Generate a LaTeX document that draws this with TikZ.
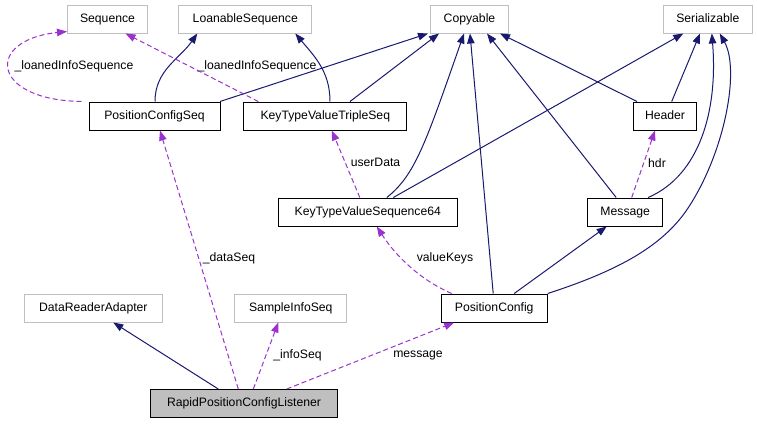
\documentclass[tikz,border=0pt]{standalone}
\usepackage{fontspec}
\setmainfont{Liberation Sans}
\usepackage{xcolor}
\usepackage{tikz}
\usetikzlibrary{positioning,arrows.meta}

\definecolor{navyline}{HTML}{191970}
\definecolor{useline}{HTML}{9A32CD}
\definecolor{boxgray}{HTML}{BFBFBF}

\tikzset{
  cls/.style={draw=black, line width=1pt, rectangle, minimum height=28pt, inner sep=0pt,
    text height=9pt, text depth=2.5pt, font=\fontsize{12.2}{14}\selectfont},
  extcls/.style={cls, draw=boxgray},
  rootcls/.style={cls, fill=boxgray},
  inherit/.style={draw=navyline, line width=1pt, -{Triangle[length=10pt,width=7.5pt]}},
  uses/.style={draw=useline, line width=1pt, dash pattern=on 5pt off 3pt,
    -{Triangle[length=10pt,width=7.5pt]}},
  lbl/.style={inner sep=0pt, font=\fontsize{12.2}{14}\selectfont},
}

\begin{document}
\begin{tikzpicture}[x=1pt,y=1pt]
    \useasboundingbox (0,0) rectangle (757,-424);

    % Top row
    \node [extcls, minimum width=80pt] (seq) at (107.5,-19) {Sequence};
    \node [extcls, minimum width=132.7pt] (loanseq) at (245.3,-19) {LoanableSequence};
    \node [extcls, minimum width=77.7pt] (copyable) at (469.5,-19) {Copyable};
    \node [extcls, minimum width=89pt] (serial) at (707.8,-19) {Serializable};

    % Second row
    \node [cls, minimum width=131pt] (pcseq) at (154.5,-116) {PositionConfigSeq};
    \node [cls, minimum width=162.7pt] (triple) at (325.3,-116) {KeyTypeValueTripleSeq};
    \node [cls, minimum width=63.3pt] (header) at (665,-116) {Header};

    % Third row
    \node [cls, minimum width=179pt] (kvseq) at (367.8,-212) {KeyTypeValueSequence64};
    \node [cls, minimum width=75pt] (msg) at (625.2,-212) {Message};

    % Fourth row
    \node [extcls, minimum width=138pt] (adapter) at (93.3,-308) {DataReaderAdapter};
    \node [extcls, minimum width=111.7pt] (infoseq) at (290.8,-308) {SampleInfoSeq};
    \node [cls, minimum width=106pt] (pconf) at (494.2,-308) {PositionConfig};

    % Listener
    \node [rootcls, minimum width=186.7pt] (listener) at (244,-403.5) {RapidPositionConfigListener};

    % Labels
    \node [lbl] (lseq1) at (74,-66) {\_loanedInfoSequence};
    \node [lbl] (lseq2) at (257,-66) {\_loanedInfoSequence};
    \node [lbl] (luser) at (375.5,-162.7) {userData};
    \node [lbl] (lhdr) at (657,-162.7) {hdr};
    \node [lbl] (lkeys) at (445,-258.3) {valueKeys};
    \node [lbl] (ldata) at (229,-258.3) {\_dataSeq};
    \node [lbl] (linfo) at (297.5,-355) {\_infoSeq};
    \node [lbl] (lmsg) at (418,-355) {message};

    % Arrows
    \draw [inherit] ([xshift=0.5pt]pcseq.north) to[out=90,in=-125] ([xshift=-48pt]loanseq.south);
    \draw [inherit] ([xshift=65.5pt]pcseq.north) -- ([xshift=-41.5pt]copyable.south);
    \draw [uses] ([xshift=-73pt]pcseq.north) .. controls (-10,-100) and (-15,-40) .. ([yshift=2pt]seq.south west);
    \draw [uses] ([xshift=-67pt]triple.north) -- ([xshift=18pt]seq.south);
    \draw [inherit] ([xshift=4.7pt]triple.north) to[out=90,in=-50] ([xshift=50pt]loanseq.south);
    \draw [inherit] ([xshift=24.7pt]triple.north) -- ([xshift=-30.5pt]copyable.south);
    \draw [uses] ([xshift=-8pt]kvseq.north) -- ([xshift=6.5pt]triple.south);
    \draw [inherit] ([xshift=19pt]kvseq.north) .. controls (415,-175) and (425,-145) .. ([xshift=-5.5pt]copyable.south);
    \draw [inherit] ([xshift=25.5pt]kvseq.north) -- ([xshift=-24.5pt]serial.south);
    \draw [inherit] ([xshift=-1pt]pconf.north) -- ([xshift=0.5pt]copyable.south);
    \draw [uses] ([xshift=-42.5pt]pconf.north) .. controls (420,-280) and (395,-255) .. ([xshift=9pt]kvseq.south);
    \draw [inherit] ([xshift=20pt]pconf.north) -- ([xshift=-18.5pt]msg.south);
    \draw [inherit] (pconf.north east) .. controls (620,-270) and (665,-245) .. (690,-205)
      .. controls (725,-150) and (740,-70) .. ([xshift=12pt]serial.south);
    \draw [inherit] ([xshift=-9pt]msg.north) -- ([xshift=17.5pt]copyable.south);
    \draw [inherit] ([xshift=23pt]msg.north) .. controls (700,-175) and (718,-110) .. ([xshift=4pt]serial.south);
    \draw [uses] ([xshift=6.5pt]msg.north) -- ([xshift=-10pt]header.south);
    \draw [inherit] ([xshift=-28pt]header.north) -- ([xshift=30.5pt]copyable.south);
    \draw [inherit] ([xshift=6.7pt]header.north) -- ([xshift=-7.8pt]serial.south);
    \draw [inherit] ([xshift=-25.7pt]listener.north) -- ([xshift=20pt]adapter.south);
    \draw [uses] ([xshift=-5.7pt]listener.north) -- ([xshift=5.5pt]pcseq.south);
    \draw [uses] ([xshift=9.3pt]listener.north) -- ([xshift=-12.5pt]infoseq.south);
    \draw [uses] ([xshift=42.7pt]listener.north) -- ([xshift=-40pt]pconf.south);
  \end{tikzpicture}
\end{document}
